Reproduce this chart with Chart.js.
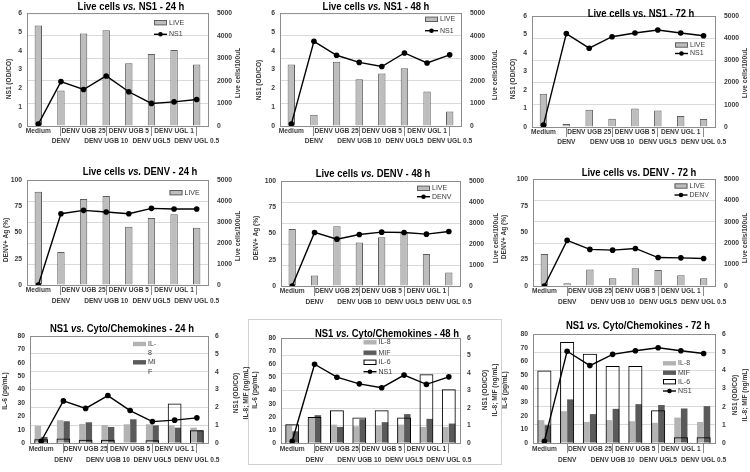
<!DOCTYPE html>
<html><head><meta charset="utf-8">
<script src="https://cdn.jsdelivr.net/npm/chart.js@4.4.1/dist/chart.umd.min.js"></script>
<style>
body{margin:0;background:#fff;}
#wrap{position:relative;width:750px;height:472px;overflow:hidden;background:#fff;}
canvas.pc{position:absolute;z-index:1;}
.ttl{position:absolute;z-index:3;white-space:nowrap;font-weight:bold;transform:translate(-50%,-50%) scaleX(0.86);color:#000;font-family:'Liberation Sans',Arial,sans-serif;font-size:11px;line-height:13px;}
.ax{position:absolute;z-index:3;white-space:nowrap;text-align:center;transform:translate(-50%,-50%) rotate(-90deg) scaleX(0.82);color:#3a3a3a;font-weight:bold;font-family:'Liberation Sans',Arial,sans-serif;font-size:8px;line-height:9.5px;}
.frame{position:absolute;z-index:0;border:1px solid #d0d0d0;}
</style></head>
<body><div id="wrap"></div>
<script>
// ---------- data ----------
const categories = ['Medium','DENV','DENV UGB 25','DENV UGB 10','DENV UGB 5','DENV UGL5','DENV UGL 1','DENV UGL 0.5'];
const live24 = [4445, 1570, 4093, 4238, 2774, 3193, 3368, 2728];
const live48 = [2720, 503, 2843, 2073, 2325, 2552, 1525, 641];
const live72 = [1500, 130, 773, 367, 834, 743, 498, 360];
const ns1_24 = [0.1, 2.36, 1.94, 2.66, 1.82, 1.2, 1.28, 1.41];
const ns1_48 = [0.1, 4.5, 3.76, 3.38, 3.16, 3.88, 3.35, 3.78];
const ns1_72 = [0.1, 5.05, 4.26, 4.88, 5.08, 5.24, 5.08, 4.93];
const denv24 = [0, 67.9, 71.1, 69.5, 67.9, 73.0, 72.4, 72.4];
const denv48 = [0, 51.0, 44.6, 49.0, 51.3, 51.0, 49.4, 51.9];
const denv72 = [0, 42.6, 34.2, 33.5, 35.1, 26.6, 26.3, 25.7];
const il8_24 = [0.96, 1.28, 1.07, 1.01, 1.05, 1.05, 0.99, 0.86];
const il8_48 = [1.05, 1.44, 1.05, 0.96, 1.0, 1.05, 0.92, 0.92];
const il8_72 = [1.26, 1.75, 1.16, 1.26, 1.2, 1.11, 1.4, 1.16];
const mif_24 = [0.34, 1.22, 1.16, 0.9, 1.33, 0.99, 0.86, 0.71];
const mif_48 = [0.67, 1.59, 0.92, 1.36, 1.19, 1.65, 1.38, 1.11];
const mif_72 = [0.98, 2.4, 1.59, 1.88, 2.14, 2.09, 1.9, 2.03];
const il6_24 = [2.8, 3.3, 2.5, 2.5, 0, 2.0, 29.5, 9.5];
const il6_48 = [14.3, 19.9, 25.0, 19.4, 25.0, 19.4, 52.4, 40.9];
const il6_72 = [53.2, 74.1, 65.5, 56.6, 56.6, 24.1, 4.2, 4.2];

// ---------- style ----------
const FONT = "'Liberation Sans',Arial,sans-serif";
const TXT = '#3a3a3a';
const AXIS = '#8c8c8c';
const GRID = '#dadada';
const C_LIVE = '#bdbdbd', C_LIVE_B = '#5e5e5e';
const C_IL8 = '#b3b3b3', C_MIF = '#5a5a5a';

const wrap = document.getElementById('wrap');
const rowY = [0, 155, 310], rowH = [155, 155, 162], rowPad = [-10.5, -10, -9];

function lineDs(label, data, axis){
  return {type:'line', label, data, yAxisID:axis, borderColor:'#000', borderWidth:1.4,
    pointRadius:2.8, pointBackgroundColor:'#000', pointBorderWidth:0, tension:0, order:0};
}
function liveDs(data){
  return {type:'bar', label:'LIVE', data, yAxisID:'y2', backgroundColor:C_LIVE, borderColor:C_LIVE_B,
    borderWidth:1, categoryPercentage:0.8, barPercentage:0.41, order:2};
}
function cytoDs(il8, mif, il6, ns1){
  return [
    {type:'bar', label:'IL-8', data:il8, yAxisID:'y2', backgroundColor:C_IL8, borderWidth:0, categoryPercentage:0.58, barPercentage:1, order:3},
    {type:'bar', label:'MIF', data:mif, yAxisID:'y2', backgroundColor:C_MIF, borderWidth:0, categoryPercentage:0.58, barPercentage:1, order:3},
    {type:'bar', label:'IL-6', data:il6, yAxisID:'y', backgroundColor:'rgba(0,0,0,0)', borderColor:'#000', borderWidth:1, grouped:false, categoryPercentage:0.62, barPercentage:1, order:1},
    lineDs('NS1', ns1, 'y2')
  ];
}

const panels = [
 {col:0,row:0, area:[27,12,208,126], title:['Live cells <i>vs.</i> NS1 - 24 h',131,5.5],
  ds:()=>[lineDs('NS1',ns1_24,'y'), liveDs(live24)], yMax:6, yStep:1, y2Max:5000, y2Step:1000,
  leg:{x:154, ys:[22.7,34.3], items:[1,0]}, lt:['NS1 (OD/CO)',9,79], rt:['Live cells/100uL',238,73]},
 {col:1,row:0, area:[280,12,461,126], title:['Live cells <i>vs.</i> NS1 - 48 h',376,5.5],
  ds:()=>[lineDs('NS1',ns1_48,'y'), liveDs(live48)], yMax:6, yStep:1, y2Max:5000, y2Step:1000,
  leg:{x:425, ys:[19.3,30.7], items:[1,0]}, lt:['NS1 (OD/CO)',259,80], rt:['Live cells/100uL',495,75]},
 {col:2,row:0, area:[532,16,715,127], title:['Live cells vs. NS1 - 72 h',641,13.3],
  ds:()=>[lineDs('NS1',ns1_72,'y'), liveDs(live72)], yMax:6, yStep:1, y2Max:5000, y2Step:1000,
  leg:{x:675, ys:[45,53.5], items:[1,0]}, lt:['NS1 (OD/CO)',513,79], rt:['Live cells/100uL',745,72.5]},
 {col:0,row:1, area:[27,180,208,285], title:['Live cells <i>vs.</i> DENV - 24 h',140,171],
  ds:()=>[lineDs('DENV',denv24,'y'), liveDs(live24)], yMax:100, yStep:25, y2Max:5000, y2Step:1000,
  leg:{x:169.5, ys:[192.7], items:[1]}, lt:['DENV+ Ag (%)',5.7,240], rt:['Live cells/100uL',237.7,236]},
 {col:1,row:1, area:[281,181,460,286], title:['Live cells <i>vs.</i> DENV - 48 h',373,173.3],
  ds:()=>[lineDs('DENV',denv48,'y'), liveDs(live48)], yMax:100, yStep:25, y2Max:5000, y2Step:1000,
  leg:{x:417, ys:[188.3,196.7], items:[1,0]}, lt:['DENV+ Ag (%)',256,237.5], rt:['Live cells/100uL',495.7,238.3]},
 {col:2,row:1, area:[533,179,715,286], title:['Live cells vs. DENV - 72 h',638.7,171.7],
  ds:()=>[lineDs('DENV',denv72,'y'), liveDs(live72)], yMax:100, yStep:25, y2Max:5000, y2Step:1000,
  leg:{x:674.5, ys:[186,195], items:[1,0]}, lt:['DENV+ Ag (%)',503.5,237], rt:['Live cells/100uL',745,237.5]},
 {col:0,row:2, area:[30,336,208,443], title:['NS1 <i>vs.</i> Cyto/Chemokines - 24 h',122,328.3], cyto:true,
  ds:()=>cytoDs(il8_24, mif_24, il6_24, ns1_24), yMax:80, yStep:10, y2Max:6, y2Step:1,
  leg:{x:133, ys:[344,362.3], items:[0,1], wrap:[['IL-','8'],['MI','F']]}, lt:['IL-6 (pg/mL)',5,391], rt:['NS1 (OD/CO)<br>IL-8; MIF (ng/mL)',240,393]},
 {col:1,row:2, area:[281,338,460,443], title:['NS1 <i>vs.</i> Cyto/Chemokines - 48 h',387,332.7], cyto:true,
  ds:()=>cytoDs(il8_48, mif_48, il6_48, ns1_48), yMax:80, yStep:10, y2Max:6, y2Step:1,
  leg:{x:363.5, ys:[342.3,352.7,362.3,371.7], items:[0,1,2,3]}, lt:['IL-6 (pg/mL)',255,390], rt:['NS1 (OD/CO)<br>IL-8; MIF (ng/mL)',488.5,390]},
 {col:2,row:2, area:[533,334,715,443], title:['NS1 <i>vs.</i> Cyto/Chemokines - 72 h',638,325], cyto:true,
  ds:()=>cytoDs(il8_72, mif_72, il6_72, ns1_72), yMax:80, yStep:10, y2Max:6, y2Step:1,
  leg:{x:663, ys:[363.3,372.7,381.7,391], items:[0,1,2,3]}, lt:['IL-6 (pg/mL)',505,390], rt:['NS1 (OD/CO)<br>IL-8; MIF (ng/mL)',739,395]}
];

// frame of the middle bottom panel
const fr = document.createElement('div');
fr.className = 'frame';
Object.assign(fr.style, {left:'248px', top:'319px', width:'252px', height:'144px'});
wrap.appendChild(fr);

function addText(cls, html, x, y){
  const d = document.createElement('div');
  d.className = cls; d.innerHTML = html;
  d.style.left = x + 'px'; d.style.top = y + 'px';
  wrap.appendChild(d);
}

panels.forEach(p => {
  const cx = p.col * 250, cy = rowY[p.row], cw = 250, ch = rowH[p.row];
  const cv = document.createElement('canvas');
  cv.className = 'pc'; cv.width = cw; cv.height = ch;
  cv.style.left = cx + 'px'; cv.style.top = cy + 'px';
  cv.style.width = cw + 'px'; cv.style.height = ch + 'px';
  wrap.appendChild(cv);
  const [L, T, R, B] = p.area;
  const leftW = L - cx, rightW = cx + cw - R, topPad = T - cy, xH = cy + ch - B;
  const catFont = {family: FONT, size: 6.6, weight: 'bold', lineHeight: 1.6};
  const tickFont = {family: FONT, size: 6.8, weight: 'bold', lineHeight: 1.2};

  const panelPlugin = {
    id: 'panelDeco',
    beforeDatasetsDraw(chart){
      const a = chart.chartArea, ctx = chart.ctx;
      ctx.save(); ctx.strokeStyle = AXIS; ctx.lineWidth = 1;
      ctx.beginPath(); ctx.moveTo(a.left, a.top + 0.5); ctx.lineTo(a.right, a.top + 0.5); ctx.stroke();
      ctx.restore();
    },
    afterDraw(chart){
      const ctx = chart.ctx, lg = p.leg;
      ctx.save();
      ctx.font = `7px ${FONT}`; ctx.textBaseline = 'middle'; ctx.textAlign = 'left';
      const w = 13;
      lg.items.forEach((di, i) => {
        const ds = chart.data.datasets[di];
        const x = lg.x - cx, y = lg.ys[i] - cy;
        if (ds.type === 'line') {
          ctx.strokeStyle = ds.borderColor; ctx.lineWidth = 1.4;
          ctx.beginPath(); ctx.moveTo(x, y); ctx.lineTo(x + w, y); ctx.stroke();
          ctx.fillStyle = ds.pointBackgroundColor;
          ctx.beginPath(); ctx.arc(x + w / 2, y, 2.3, 0, Math.PI * 2); ctx.fill();
        } else {
          ctx.fillStyle = ds.backgroundColor === 'rgba(0,0,0,0)' ? '#fff' : ds.backgroundColor;
          ctx.fillRect(x, y - 2.2, w, 4.4);
          if (ds.borderWidth) { ctx.strokeStyle = ds.borderColor; ctx.lineWidth = 1; ctx.strokeRect(x + 0.5, y - 2.2, w - 1, 4.4); }
        }
        ctx.fillStyle = TXT;
        const lines = lg.wrap ? lg.wrap[i] : [ds.label];
        lines.forEach((t, k) => ctx.fillText(t, x + w + 2, y + k * 9.3));
      });
      ctx.restore();
    }
  };

  new Chart(cv, {
    data: {labels: categories, datasets: p.ds()},
    plugins: [panelPlugin],
    options: {
      responsive: false, animation: false, devicePixelRatio: 1,
      layout: {padding: {top: topPad, left: 0, right: 0, bottom: 0}},
      plugins: {legend: {display: false}, title: {display: false}, tooltip: {enabled: false}},
      scales: {
        x: {type: 'category', offset: true,
          grid: {offset: false, drawOnChartArea: false, drawTicks: true, tickLength: 10,
                 color: c => (c.index % 2 ? AXIS : 'rgba(0,0,0,0)'), lineWidth: 1},
          border: {display: true, color: AXIS},
          ticks: {autoSkip: false, maxRotation: 0, minRotation: 0, padding: rowPad[p.row], font: catFont, color: TXT,
                  callback: (v, i) => (i % 2 ? ['', categories[i]] : [categories[i], ''])},
          afterFit: s => { s.height = xH; }},
        y: {position: 'left', min: 0, max: p.yMax,
          ticks: {stepSize: p.yStep, padding: 5, font: tickFont, color: TXT, callback: v => String(v)},
          grid: {display: false, drawTicks: false},
          border: {display: true, color: AXIS},
          afterFit: s => { s.width = leftW; }},
        y2: {position: 'right', min: 0, max: p.y2Max,
          ticks: {stepSize: p.y2Step, padding: p.cyto ? 7 : 9, font: tickFont, color: TXT, callback: v => String(v)},
          grid: {drawOnChartArea: true, drawTicks: false, color: GRID, lineWidth: 1},
          border: {display: true, color: AXIS},
          afterFit: s => { s.width = rightW; }}
      }
    }
  });

  addText('ttl', p.title[0], p.title[1], p.title[2]);
  addText('ax', p.lt[0], p.lt[1], p.lt[2]);
  addText('ax', p.rt[0], p.rt[1], p.rt[2]);
});
</script></body></html>
